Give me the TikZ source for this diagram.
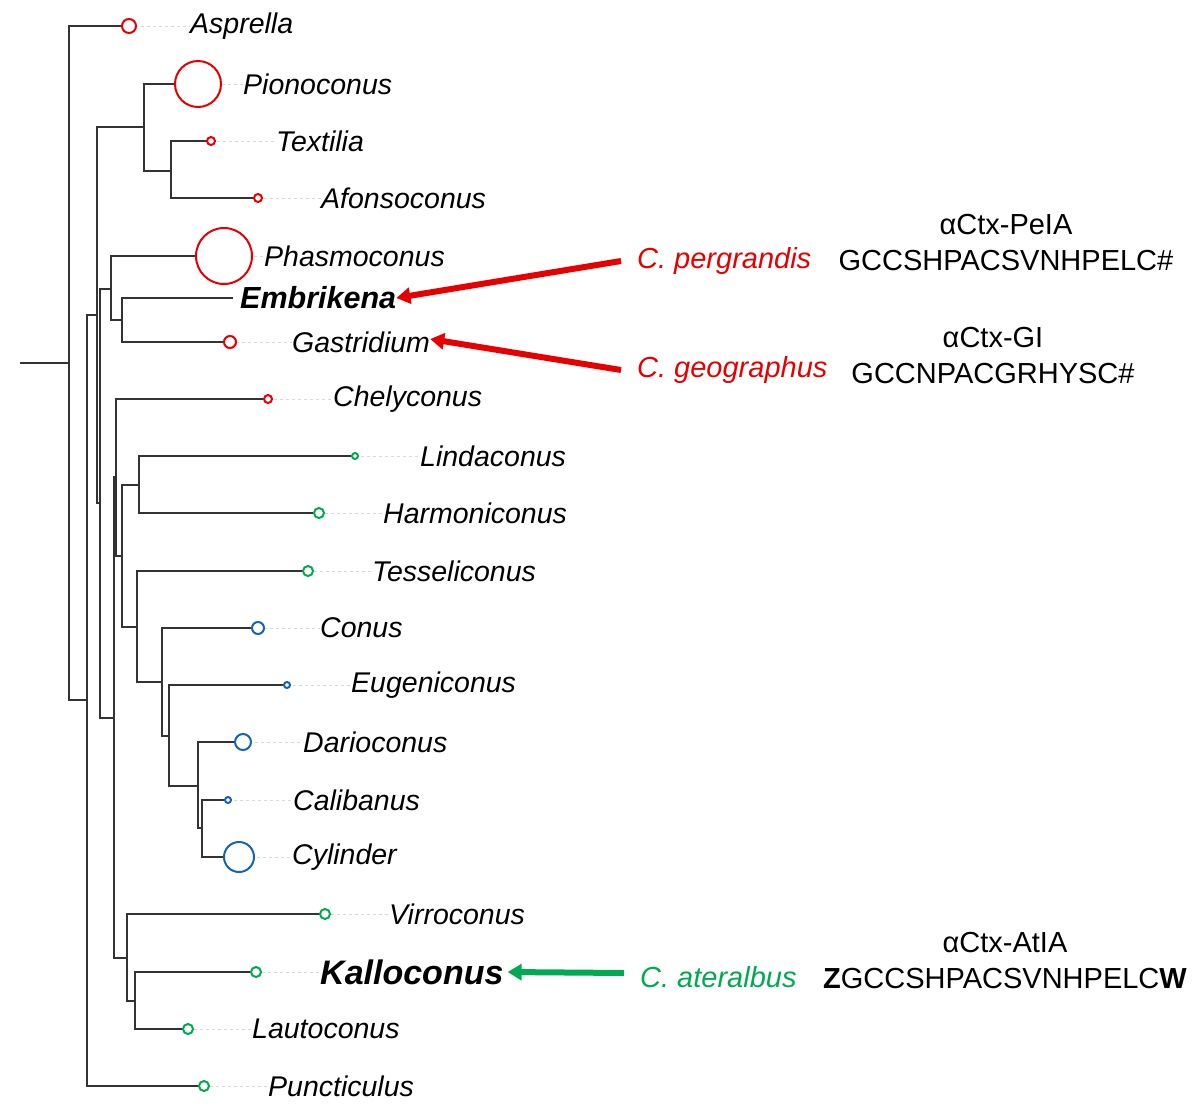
\documentclass[tikz,border=0pt]{standalone}
\usepackage{fontspec}
\setmainfont{Liberation Sans}
\usetikzlibrary{arrows.meta}
\definecolor{tred}{RGB}{230,0,0}
\definecolor{tgreen}{RGB}{0,170,80}
\definecolor{tblue}{RGB}{20,100,180}
\begin{document}
\begin{tikzpicture}
    [ x = 1pt, y = -1pt
    , branch/.style =
      { draw = black!80, line width = 1.2pt }
    , tip/.style =
      { draw, circle, fill = white, inner sep = 0pt, line width = 2pt }
    , lead/.style =
      { draw = black!15, dashed, line width = .8pt }
    , taxon/.style =
      { anchor = west, inner sep = 0pt, font = \fontsize{28.5}{32}\selectfont\itshape }
    , species/.style =
      { anchor = west, inner sep = 0pt, font = \fontsize{29}{32}\selectfont\itshape }
    , toxin/.style =
      { align = center, inner sep = 0pt, font = \fontsize{29}{36}\selectfont }
    , pointer/.style =
      { line width = 6pt, -{Triangle[length=14pt,width=16pt]} }
    ]
    \useasboundingbox (0,0) rectangle (1200,1109);

    % internal nodes
    \coordinate (s) at (20,363);
    \coordinate (r0) at (69,363);
    \coordinate (n1) at (87,700);
    \coordinate (n2) at (97,315);
    \coordinate (n3) at (144,127);
    \coordinate (n4) at (171,171);
    \coordinate (n5) at (100,503);
    \coordinate (n6) at (111,289);
    \coordinate (n7) at (122,320);
    \coordinate (n8) at (114,718);
    \coordinate (n9) at (116,477);
    \coordinate (n10) at (122,556);
    \coordinate (n11) at (139,485);
    \coordinate (n12) at (137,627);
    \coordinate (n13) at (162,682);
    \coordinate (n14) at (169,736);
    \coordinate (n15) at (198,786);
    \coordinate (n16) at (202,828);
    \coordinate (n17) at (127,958);
    \coordinate (n18) at (135,1001);

    % tips
    \coordinate (asp) at (129,26);
    \coordinate (pio) at (198,84);
    \coordinate (tex) at (211,141);
    \coordinate (afo) at (258,198);
    \coordinate (pha) at (224,256);
    \coordinate (emb) at (233,298);
    \coordinate (gas) at (230,342);
    \coordinate (che) at (268,399);
    \coordinate (lin) at (355,456);
    \coordinate (har) at (319,513);
    \coordinate (tes) at (308,571);
    \coordinate (con) at (258,628);
    \coordinate (eug) at (287,685);
    \coordinate (dar) at (243,742);
    \coordinate (cal) at (228,800);
    \coordinate (cyl) at (239,857);
    \coordinate (vir) at (325,914);
    \coordinate (kal) at (256,972);
    \coordinate (lau) at (188,1029);
    \coordinate (pun) at (204,1086);

    \draw [branch] (s) -- (r0);
    \foreach \p/\c in {r0/asp, r0/n1, n1/n2, n1/pun, n2/n3, n2/n5, n3/pio, n3/n4,
        n4/tex, n4/afo, n5/n6, n5/n8, n6/pha, n6/n7, n7/emb, n7/gas, n8/n9, n8/n17,
        n9/che, n9/n10, n10/n11, n10/n12, n11/lin, n11/har, n12/tes, n12/n13,
        n13/con, n13/n14, n14/eug, n14/n15, n15/dar, n15/n16, n16/cal, n16/cyl,
        n17/vir, n17/n18, n18/kal, n18/lau}
      \draw [branch] (\p) |- (\c);

    % labels
    \foreach \c/\x/\t in {asp/190/Asprella, pio/243/Pionoconus, tex/276/Textilia,
        afo/321/Afonsoconus, pha/264/Phasmoconus, gas/292/Gastridium,
        che/333/Chelyconus, lin/420/Lindaconus, har/383/Harmoniconus,
        tes/372/Tesseliconus, con/320/Conus, eug/351/Eugeniconus,
        dar/303/Darioconus, cal/293/Calibanus, cyl/292/Cylinder,
        vir/389/Virroconus, lau/252/Lautoconus, pun/268/Puncticulus}
      {
      \node [taxon] (\c-l) at (\x,0 |- \c) {\t};
      \draw [lead] (\c) -- (\c-l.west);
      }
    \node [taxon, font = \fontsize{30.5}{34}\selectfont\bfseries\itshape] (emb-l) at (240,298) {Embrikena};
    \node [taxon, font = \fontsize{34}{38}\selectfont\bfseries\itshape] (kal-l) at (320,972) {Kalloconus};
    \draw [lead] (kal) -- (kal-l.west);

    % tip circles
    \foreach \c/\r/\col in {asp/7/tred, pio/23/tred, tex/4/tred, afo/4/tred,
        pha/28/tred, gas/6/tred, che/4/tred, lin/3/tgreen, har/5/tgreen,
        tes/5/tgreen, con/6/tblue, eug/3/tblue, dar/8/tblue, cal/3/tblue,
        cyl/15/tblue, vir/5/tgreen, kal/5/tgreen, lau/5/tgreen, pun/5/tgreen}
      \node [tip, draw = \col, minimum size = 2*\r pt] at (\c) {};

    % species and toxins
    \node [species, tred] (per) at (637,261) {C. pergrandis};
    \node [species, tred] (geo) at (637,370) {C. geographus};
    \node [species, tgreen] (ate) at (640,977) {C. ateralbus};
    \node [toxin] (pela) at (1006,243) {αCtx-PeIA\\GCCSHPACSVNHPELC\#};
    \node [toxin] (gi) at (993,356) {αCtx-GI\\GCCNPACGRHYSC\#};
    \node [toxin] (atia) at (1005,961) {αCtx-AtIA\\\textbf{Z}GCCSHPACSVNHPELC\textbf{W}};

    \draw [pointer, tred] (per.west) ++(-16,0) -- (emb-l.east);
    \draw [pointer, tred] (geo.west) ++(-16,0) -- ([yshift=3pt]gas-l.east);
    \draw [pointer, tgreen] (ate.west) ++(-16,-4) -- ([xshift=4pt]kal-l.east);
\end{tikzpicture}
\end{document}
